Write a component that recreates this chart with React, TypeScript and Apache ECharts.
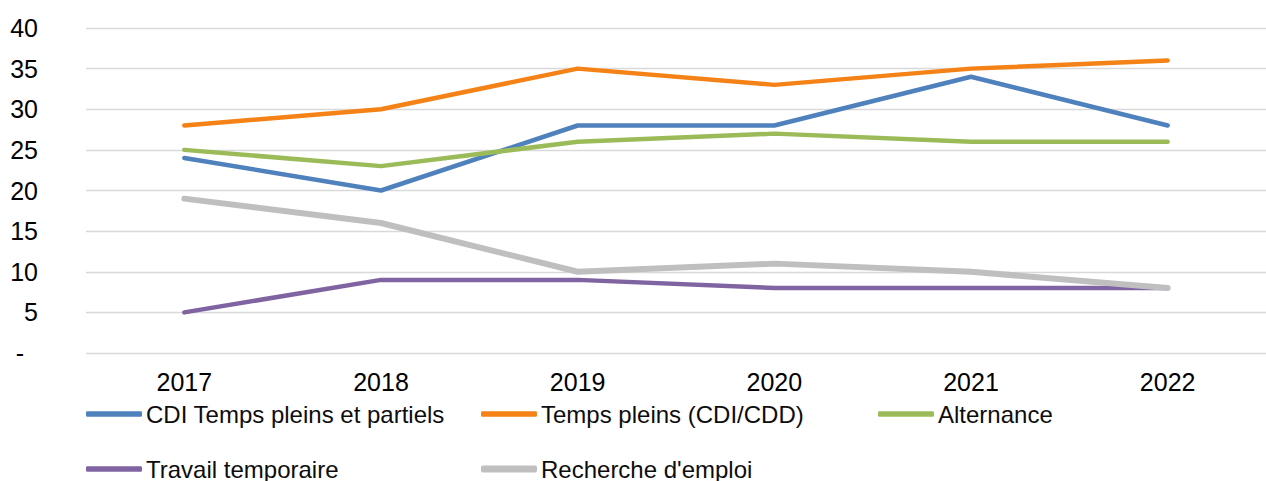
import React, { useEffect, useRef } from "react";
import * as echarts from "echarts";

const years = ["2017", "2018", "2019", "2020", "2021", "2022"];
const cdiTemps = [24, 20, 28, 28, 34, 28];
const tempsPleins = [28, 30, 35, 33, 35, 36];
const alternance = [25, 23, 26, 27, 26, 26];
const travailTemporaire = [5, 9, 9, 8, 8, 8];
const rechercheEmploi = [19, 16, 10, 11, 10, 8];

const seriesDefs = [
  { name: "CDI Temps pleins et partiels", data: cdiTemps, color: "#4F81BD", width: 4.5 },
  { name: "Temps pleins (CDI/CDD)", data: tempsPleins, color: "#F58216", width: 4.5 },
  { name: "Alternance", data: alternance, color: "#9BBB59", width: 4.5 },
  { name: "Travail temporaire", data: travailTemporaire, color: "#8064A2", width: 4.5 },
  { name: "Recherche d'emploi", data: rechercheEmploi, color: "#BFBFBF", width: 6 },
];

const legendPos = [
  { left: 86, top: 402 },
  { left: 481, top: 402 },
  { left: 878, top: 402 },
  { left: 86, top: 457 },
  { left: 481, top: 457 },
];

const FONT = "'Liberation Sans', Arial, sans-serif";

export default function App() {
  const ref = useRef<HTMLDivElement>(null);
  useEffect(() => {
    if (!ref.current) return;
    const chart = echarts.init(ref.current, undefined, { renderer: "svg" });
    chart.setOption({
      animation: false,
      textStyle: { fontFamily: FONT },
      grid: { left: 86, right: -8, top: 28, bottom: 128, containLabel: false },
      xAxis: {
        type: "category",
        data: years,
        boundaryGap: true,
        axisLine: { show: false },
        axisTick: { show: false },
        axisLabel: { fontSize: 25, color: "#000", margin: 16, fontFamily: FONT },
      },
      yAxis: {
        type: "value",
        min: 0,
        max: 40,
        interval: 5,
        axisLine: { show: false },
        axisTick: { show: false },
        splitLine: { lineStyle: { color: "#D9D9D9", width: 1.3 } },
        axisLabel: {
          fontSize: 25,
          color: "#000",
          margin: 48,
          fontFamily: FONT,
          formatter: (v: number) => (v === 0 ? "-  " : String(v)),
        },
      },
      legend: seriesDefs.map((s, i) => ({
        data: [s.name],
        left: legendPos[i].left,
        top: legendPos[i].top,
        padding: 0,
        itemWidth: 56,
        itemHeight: s.width + 1,
        itemGap: 0,
        icon: "roundRect",
        textStyle: { fontSize: 24, color: "#0D0D0D", fontFamily: FONT, padding: [0, 0, 0, -1] },
        selectedMode: false,
      })),
      series: seriesDefs.map((s) => ({
        name: s.name,
        type: "line",
        data: s.data,
        symbol: "none",
        color: s.color,
        lineStyle: { width: s.width, color: s.color, cap: "round", join: "round" },
      })),
    });
    return () => chart.dispose();
  }, []);
  return (
    <div
      ref={ref}
      style={{ position: "absolute", left: 0, top: 0, width: 1266, height: 481 }}
    />
  );
}
